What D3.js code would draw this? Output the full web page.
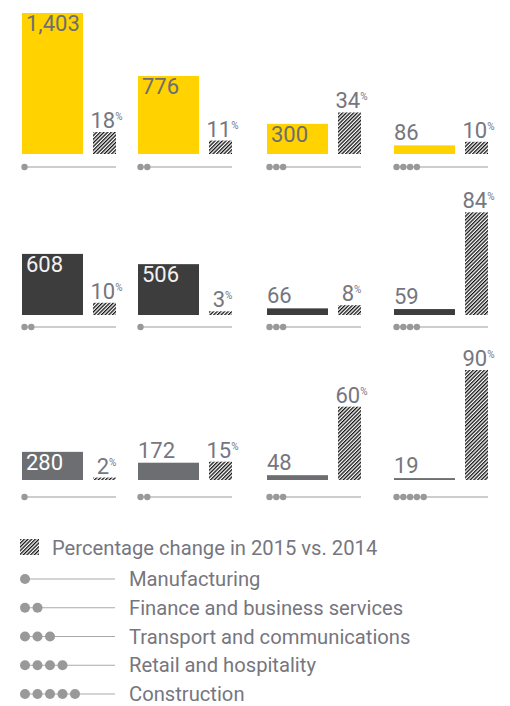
<!DOCTYPE html>
<html>
<head>
<meta charset="utf-8">
<script src="https://cdn.jsdelivr.net/npm/d3@7"></script>
<style>
  body { margin: 0; background: #fff; }
  svg { display: block; font-family: Roboto, "Open Sans", sans-serif; font-weight: 400; }
</style>
</head>
<body>
<svg id="chart" width="510" height="706"></svg>
<script>
// sector names (legend order, dot count = index + 1)
const sectors = ["Manufacturing", "Finance and business services", "Transport and communications", "Retail and hospitality", "Construction"];

// three groups of four bars each
const row1Sectors = [1, 2, 3, 4];
const row1Values = [1403, 776, 300, 86];
const row1Pct = [18, 11, 34, 10];

const row2Sectors = [2, 1, 3, 4];
const row2Values = [608, 506, 66, 59];
const row2Pct = [10, 3, 8, 84];

const row3Sectors = [1, 2, 3, 5];
const row3Values = [280, 172, 48, 19];
const row3Pct = [2, 15, 60, 90];

const legendTitle = "Percentage change in 2015 vs. 2014";

const rows = [
    {sectors: row1Sectors, values: row1Values, pct: row1Pct, color: "#ffd200", inText: "#6d6e71", base: 154, line: 167},
    {sectors: row2Sectors, values: row2Values, pct: row2Pct, color: "#3d3d3d", inText: "#f2f2f2", base: 315, line: 327},
    {sectors: row3Sectors, values: row3Values, pct: row3Pct, color: "#6d6e71", inText: "#ffffff", base: 480, line: 497}
];

let svg = d3.select("#chart");
const textGray = "#76767f";

// hatch pattern
let defs = svg.append("defs");
defs.append("pattern")
    .attr("id", "hatch")
    .attr("patternUnits", "userSpaceOnUse")
    .attr("width", 2.6)
    .attr("height", 4)
    .attr("patternTransform", "rotate(45)")
    .append("rect")
    .attr("x", 0).attr("y", 0)
    .attr("width", 1.3).attr("height", 4)
    .attr("fill", "#111");

let colX = [22, 138, 267, 394];
let barW = 61, hatchOff = 71, hatchW = 23;

let yVal = d3.scaleLinear().domain([0, 1403]).range([0, 141]);
let yPct = d3.scaleLinear().domain([0, 90]).range([0, 110]);

let fontSize = 22;

rows.forEach(function (row) {
    let g = svg.append("g");
    let items = row.values.map((v, i) => ({value: v, pct: row.pct[i], sector: row.sectors[i], i: i}));

    let cell = g.selectAll(".cell")
        .data(items)
        .enter().append("g")
        .attr("class", "cell")
        .attr("transform", d => "translate(" + colX[d.i] + ",0)");

    // value bars
    cell.append("rect")
        .attr("x", 0)
        .attr("y", d => row.base - yVal(d.value))
        .attr("width", barW)
        .attr("height", d => yVal(d.value))
        .attr("fill", row.color);

    cell.append("text")
        .attr("x", d => yVal(d.value) > 24 ? 4 : 0)
        .attr("y", d => yVal(d.value) > 24 ? row.base - yVal(d.value) + 18 : row.base - yVal(d.value) - 5)
        .attr("font-size", fontSize)
        .attr("fill", d => yVal(d.value) > 24 ? row.inText : textGray)
        .text(d => d3.format(",")(d.value));

    // percentage bars
    cell.append("rect")
        .attr("x", hatchOff)
        .attr("y", d => row.base - yPct(d.pct))
        .attr("width", hatchW)
        .attr("height", d => yPct(d.pct))
        .attr("fill", "url(#hatch)");

    let pt = cell.append("text")
        .attr("x", hatchOff + hatchW / 2 + 2)
        .attr("y", d => row.base - yPct(d.pct) - 4)
        .attr("text-anchor", "middle")
        .attr("font-size", fontSize)
        .attr("fill", textGray);
    pt.append("tspan").text(d => d.pct);
    pt.append("tspan")
        .attr("font-size", 10)
        .attr("dy", -8)
        .text("%");

    // sector marker
    cell.append("line")
        .attr("x1", 2)
        .attr("x2", hatchOff + hatchW)
        .attr("y1", row.line)
        .attr("y2", row.line)
        .attr("stroke", "#bdbdbd")
        .attr("stroke-width", 1.5);

    cell.each(function (d) {
        d3.select(this).selectAll(".dot")
            .data(d3.range(d.sector))
            .enter().append("circle")
            .attr("class", "dot")
            .attr("cx", k => 2.5 + k * 6.8)
            .attr("cy", row.line)
            .attr("r", 3.2)
            .attr("fill", "#999");
    });
});

// legend
let legend = svg.append("g").attr("class", "legend");
legend.append("rect")
    .attr("x", 20).attr("y", 539)
    .attr("width", 19).attr("height", 16)
    .attr("fill", "url(#hatch)");
legend.append("text")
    .attr("x", 52).attr("y", 555)
    .attr("font-size", 20.2)
    .attr("fill", textGray)
    .text(legendTitle);

let legY = d3.scaleLinear().domain([0, 4]).range([586, 701]);

let li = legend.selectAll(".item")
    .data(sectors)
    .enter().append("g")
    .attr("class", "item")
    .attr("transform", (d, i) => "translate(0," + legY(i) + ")");

li.append("line")
    .attr("x1", 24).attr("x2", 115)
    .attr("y1", -7).attr("y2", -7)
    .attr("stroke", "#aaa")
    .attr("stroke-width", 1.2);

li.each(function (d, i) {
    d3.select(this).selectAll("circle")
        .data(d3.range(i + 1))
        .enter().append("circle")
        .attr("cx", k => 25 + k * 12.5)
        .attr("cy", -7)
        .attr("r", 5)
        .attr("fill", "#999");
});

li.append("text")
    .attr("x", 129).attr("y", 0)
    .attr("font-size", 20.2)
    .attr("fill", textGray)
    .text(d => d);
</script>
</body>
</html>
